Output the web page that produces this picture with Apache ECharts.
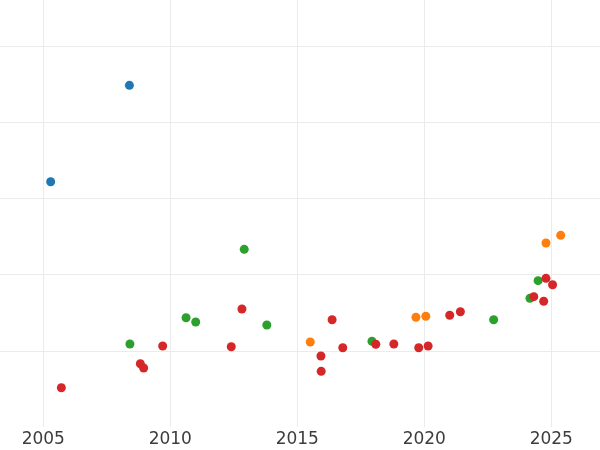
<!DOCTYPE html>
<html>
<head>
<meta charset="utf-8">
<script src="https://cdn.jsdelivr.net/npm/echarts@6/dist/echarts.min.js"></script>
<style>html,body{margin:0;padding:0;background:#fff}#c{width:600px;height:450px}</style>
</head>
<body>
<div id="c"></div>
<script>
// Data: [year, value]
const blueData = [[2005.29, 3.217], [2008.39, 4.481]];
const orangeData = [[2015.51, 1.115], [2019.67, 1.439], [2020.06, 1.452], [2024.79, 2.413], [2025.37, 2.514]];
const greenData = [[2008.41, 1.089], [2010.62, 1.433], [2011.00, 1.377], [2012.91, 2.330], [2013.80, 1.338],
  [2017.94, 1.124], [2022.73, 1.407], [2024.16, 1.688], [2024.48, 1.919]];
const redData = [[2005.71, 0.515], [2008.82, 0.830], [2008.95, 0.774], [2009.70, 1.062], [2012.40, 1.053],
  [2012.82, 1.548], [2015.93, 0.931], [2015.94, 0.730], [2016.37, 1.407], [2016.79, 1.040],
  [2018.09, 1.085], [2018.80, 1.089], [2019.78, 1.040], [2020.15, 1.062], [2021.00, 1.465],
  [2021.42, 1.512], [2024.31, 1.709], [2024.70, 1.649], [2024.79, 1.950], [2025.05, 1.866]];
const seriesColors = ['#1f77b4', '#ff7f0e', '#2ca02c', '#d62728'];
const xMin = 2003.295, xMax = 2026.917;
const yMin = 0, yMax = 5.6;

const chart = echarts.init(document.getElementById('c'), null, {renderer: 'canvas'});
const mk = (data, color) => ({
  type: 'scatter', data: data, symbol: 'circle', symbolSize: 9,
  itemStyle: {color: color, opacity: 1}, silent: true
});
chart.setOption({
  animation: false,
  backgroundColor: '#ffffff',
  grid: {left: 0, right: 0, top: 0, bottom: 23, containLabel: false},
  xAxis: {
    type: 'value', min: xMin, max: xMax,
    axisLine: {show: false}, axisTick: {show: false},
    splitLine: {show: true, showMinLine: false, showMaxLine: false, lineStyle: {color: '#ebebeb', width: 1}},
    axisLabel: {
      show: true, showMinLabel: false, showMaxLabel: false, margin: 4,
      fontFamily: 'DejaVu Sans', fontSize: 17, color: '#3d3d3d',
      formatter: v => String(Math.round(v))
    }
  },
  yAxis: {
    type: 'value', min: yMin, max: yMax,
    axisLine: {show: false}, axisTick: {show: false}, axisLabel: {show: false},
    splitLine: {show: true, showMinLine: false, showMaxLine: false, lineStyle: {color: '#ebebeb', width: 1}}
  },
  series: [
    mk(blueData, seriesColors[0]),
    mk(orangeData, seriesColors[1]),
    mk(greenData, seriesColors[2]),
    mk(redData, seriesColors[3])
  ]
});
</script>
</body>
</html>
